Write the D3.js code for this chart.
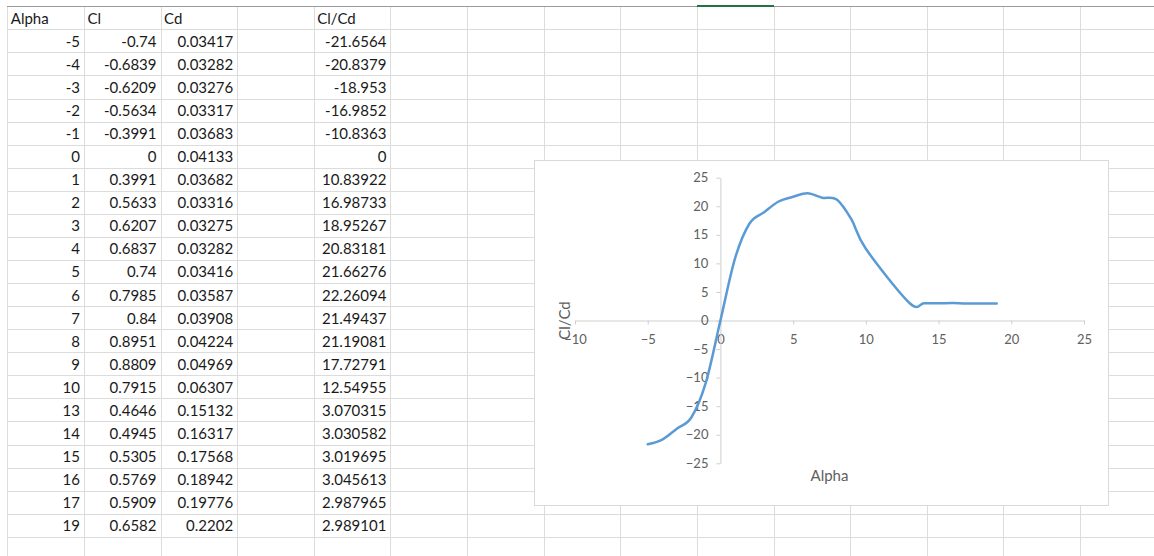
<!DOCTYPE html>
<html>
<head>
<meta charset="utf-8">
<script src="https://cdn.jsdelivr.net/npm/d3@7"></script>
<style>
  html, body { margin: 0; padding: 0; background: #fff; }
  svg { display: block; }
  .cell { font-family: Lato, "Open Sans", sans-serif; font-size: 15px; fill: #1a1a1a; }
  .axis text { font-family: Lato, "Open Sans", sans-serif; font-size: 13px; fill: #606060; }
  .axis-title { font-family: Lato, "Open Sans", sans-serif; font-size: 15px; fill: #606060; }
</style>
</head>
<body>
<svg id="sheet" width="1154" height="556"></svg>
<script>
// Airfoil polar: angle of attack vs lift, drag and lift-to-drag ratio
const alpha = [-5, -4, -3, -2, -1, 0, 1, 2, 3, 4, 5, 6, 7, 8, 9, 10, 13, 14, 15, 16, 17, 19];
const cl = [-0.74, -0.6839, -0.6209, -0.5634, -0.3991, 0, 0.3991, 0.5633, 0.6207, 0.6837, 0.74,
            0.7985, 0.84, 0.8951, 0.8809, 0.7915, 0.4646, 0.4945, 0.5305, 0.5769, 0.5909, 0.6582];
const cd = [0.03417, 0.03282, 0.03276, 0.03317, 0.03683, 0.04133, 0.03682, 0.03316, 0.03275, 0.03282,
            0.03416, 0.03587, 0.03908, 0.04224, 0.04969, 0.06307, 0.15132, 0.16317, 0.17568, 0.18942,
            0.19776, 0.2202];
const clcd = [-21.6564, -20.8379, -18.953, -16.9852, -10.8363, 0, 10.83922, 16.98733, 18.95267, 20.83181,
              21.66276, 22.26094, 21.49437, 21.19081, 17.72791, 12.54955, 3.070315, 3.030582, 3.019695,
              3.045613, 2.987965, 2.989101];
const headers = ["Alpha", "Cl", "Cd", "", "Cl/Cd"];
const xTicks = [-10, -5, 0, 5, 10, 15, 20, 25];
const yTicks = [-25, -20, -15, -10, -5, 0, 5, 10, 15, 20, 25];

const svg = d3.select("#sheet");
const W = 1154, H = 556;

// ---- worksheet grid ----
const gridLeft = 7.3, colW = 76.62, headTop = 6, headBottom = 29.3, rowH = 23.07;
const colEdges = d3.range(0, 16).map(i => gridLeft + i * colW);
const rowEdges = d3.range(0, 24).map(i => headBottom + i * rowH).filter(y => y < H);

const grid = svg.append("g").attr("shape-rendering", "crispEdges");
grid.selectAll("line.h").data(rowEdges).join("line")
  .attr("x1", gridLeft).attr("x2", W).attr("y1", d => Math.round(d) + 0.5).attr("y2", d => Math.round(d) + 0.5)
  .attr("stroke", "#dcdcdc").attr("stroke-width", 1);
grid.selectAll("line.v").data(colEdges).join("line")
  .attr("x1", d => Math.round(d) + 0.5).attr("x2", d => Math.round(d) + 0.5).attr("y1", headTop).attr("y2", H)
  .attr("stroke", "#dcdcdc").attr("stroke-width", 1);
// frozen top border and active column marker
grid.append("line").attr("x1", gridLeft).attr("x2", W).attr("y1", headTop + 0.5).attr("y2", headTop + 0.5)
  .attr("stroke", "#9a9a9a").attr("stroke-width", 1.5);
grid.append("line").attr("x1", colEdges[9]).attr("x2", colEdges[10]).attr("y1", headTop).attr("y2", headTop)
  .attr("stroke", "#217346").attr("stroke-width", 2);

// ---- cell contents ----
const cells = svg.append("g");
const pad = 4, baseOff = 5.6;
headers.forEach((h, i) => {
  if (!h) return;
  cells.append("text").attr("class", "cell")
    .attr("x", colEdges[i] + 3.5).attr("y", headBottom - baseOff).text(h);
});
const columns = [[0, alpha], [1, cl], [2, cd], [4, clcd]];
columns.forEach(([ci, vals]) => {
  cells.selectAll(null).data(vals).join("text").attr("class", "cell")
    .attr("text-anchor", "end")
    .attr("x", colEdges[ci + 1] - pad)
    .attr("y", (d, r) => headBottom + (r + 1) * rowH - baseOff)
    .text(d => String(d));
});

// ---- embedded chart ----
const box = { x: 534, y: 160, w: 574, h: 345 };
svg.append("rect").attr("x", box.x + 0.5).attr("y", box.y + 0.5).attr("width", box.w).attr("height", box.h)
  .attr("fill", "#fff").attr("stroke", "#d9d9d9").attr("stroke-width", 1);

const x = d3.scaleLinear().domain([-10, 25]).range([575, 1084]);
const y = d3.scaleLinear().domain([-25, 25]).range([463.3, 177.7]);

const xAxis = svg.append("g").attr("class", "axis")
  .attr("transform", `translate(0,${y(0)})`)
  .call(d3.axisBottom(x).tickValues(xTicks).tickSize(4).tickSizeOuter(0).tickPadding(10).tickFormat(d3.format("d")));
const yAxis = svg.append("g").attr("class", "axis")
  .attr("transform", `translate(${x(0)},0)`)
  .call(d3.axisLeft(y).tickValues(yTicks).tickSize(4).tickSizeOuter(0).tickPadding(8).tickFormat(d3.format("d")));
svg.selectAll(".axis path, .axis line").attr("stroke", "#cfcfcf").attr("stroke-width", 1);
svg.selectAll(".axis text").attr("fill", "#606060");

// axis titles
svg.append("text").attr("class", "axis-title").attr("text-anchor", "middle")
  .attr("x", (x.range()[0] + x.range()[1]) / 2).attr("y", 481).text("Alpha");
svg.append("text").attr("class", "axis-title").attr("text-anchor", "middle")
  .attr("transform", `translate(569.5,${(y.range()[0] + y.range()[1]) / 2}) rotate(-90)`).text("Cl/Cd");

// smoothed Cl/Cd curve
const line = d3.line().x((d, i) => x(alpha[i])).y(d => y(d)).curve(d3.curveCardinal.tension(0));
svg.append("path").datum(clcd).attr("d", line)
  .attr("fill", "none").attr("stroke", "#5B9BD5").attr("stroke-width", 2.5)
  .attr("stroke-linejoin", "round").attr("stroke-linecap", "round");
</script>
</body>
</html>
